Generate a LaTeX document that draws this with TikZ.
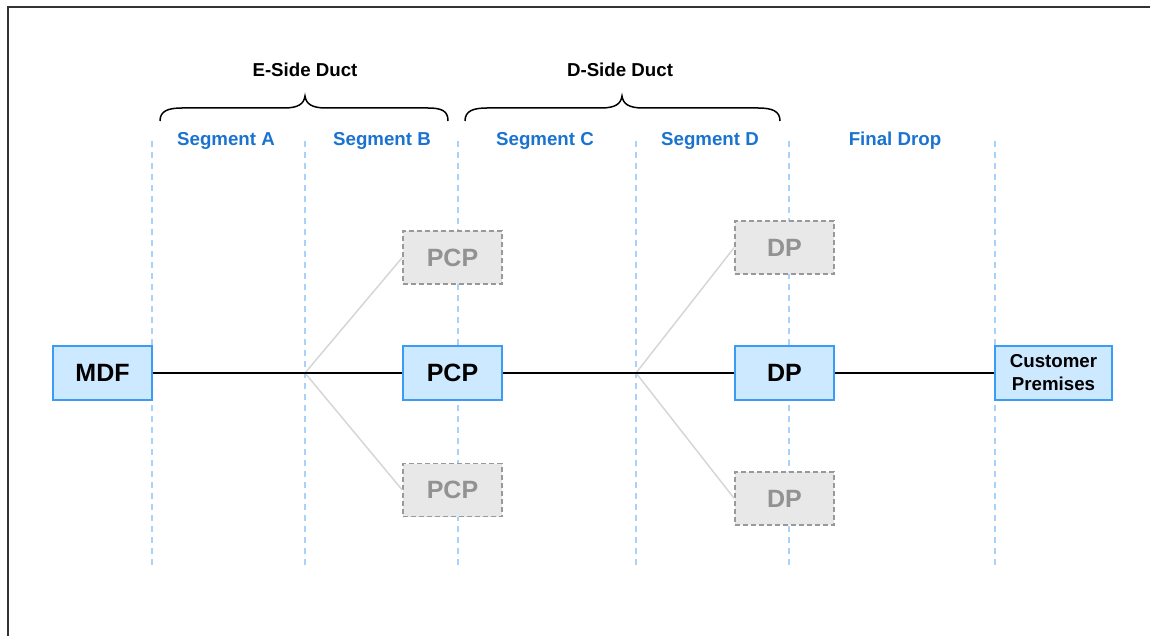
\documentclass[tikz,border=0pt]{standalone}
\usepackage{fontspec}
\setmainfont{Liberation Sans}
\definecolor{nodefill}{HTML}{CCE9FF}
\definecolor{nodeedge}{HTML}{3C9BF5}
\definecolor{ghostfill}{HTML}{E8E8E8}
\definecolor{ghostedge}{HTML}{999999}
\definecolor{ghosttext}{HTML}{929292}
\definecolor{branchline}{HTML}{D6D6D6}
\definecolor{guide}{HTML}{A8D2FA}
\definecolor{segblue}{HTML}{1A73D0}
\definecolor{framec}{HTML}{333333}
\begin{document}
\begin{tikzpicture}[x=1pt,y=-1pt,
  seglabel/.style={font=\bfseries\fontsize{18.7}{20}\selectfont, text=segblue},
  ductlabel/.style={font=\bfseries\fontsize{18.7}{20}\selectfont, text=black},
  guideline/.style={guide, line width=1.2pt, dash pattern=on 6pt off 5pt},
  mainbox/.style={draw=nodeedge, fill=nodefill, line width=2pt,
    minimum width=99pt, minimum height=54pt, inner sep=0pt,
    font=\bfseries\fontsize{25}{28}\selectfont, align=center},
  custbox/.style={mainbox, minimum width=117pt, font=\bfseries\fontsize{18.7}{22}\selectfont},
  ghostbox/.style={draw=ghostedge, fill=ghostfill, line width=1.5pt, dash pattern=on 5pt off 3pt,
    minimum width=99pt, minimum height=53pt, inner sep=0pt, text=ghosttext,
    font=\bfseries\fontsize{25}{28}\selectfont},
  trunk/.style={black, line width=2pt},
  branch/.style={branchline, line width=1.5pt},
  bracestyle/.style={black, line width=1.5pt}]
\useasboundingbox (0,0) rectangle (1150,636);
% outer frame
\draw[framec, line width=2pt] (8,7) rectangle (1175,660);

% segment boundaries
\foreach \x in {152,305,458,636,789,995}
  \draw[guideline] (\x,141) -- (\x,567);

% segment labels
\node[seglabel] (sa) at (226,141) {Segment A};
\node[seglabel] (sb) at (382,141) {Segment B};
\node[seglabel] (sc) at (545,141) {Segment C};
\node[seglabel] (sd) at (710,141) {Segment D};
\node[seglabel] (sf) at (895,141) {Final Drop};

% duct braces
\draw[bracestyle] (160,121) .. controls (160,111) and (168,108) .. (182,108)
  -- (284,108) .. controls (298,108) and (304,104) .. (305,96)
  .. controls (306,104) and (312,108) .. (326,108)
  -- (428,108) .. controls (442,108) and (448,111) .. (448,121);
\draw[bracestyle] (465,121) .. controls (465,111) and (473,108) .. (487,108)
  -- (601,108) .. controls (615,108) and (621,104) .. (622,96)
  .. controls (623,104) and (629,108) .. (643,108)
  -- (758,108) .. controls (772,108) and (780,111) .. (780,121);
\node[ductlabel] (eside) at (305,70) {E-Side Duct};
\node[ductlabel] (dside) at (620,70) {D-Side Duct};

% branch points
\coordinate (bp1) at (305,373);
\coordinate (bp2) at (636,373);

% alternative cabinets and drop points
\node[ghostbox] (pcpu) at (452.5,257.5) {PCP};
\node[ghostbox] (pcpd) at (452.5,490) {PCP};
\node[ghostbox] (dpu) at (784.5,247.5) {DP};
\node[ghostbox] (dpd) at (784.5,498.5) {DP};

\draw[branch] (bp1) -- (pcpu.west);
\draw[branch] (bp1) -- (pcpd.west);
\draw[branch] (bp2) -- (dpu.west);
\draw[branch] (bp2) -- (dpd.west);

% main route
\node[mainbox] (mdf) at (102.5,373) {MDF};
\node[mainbox] (pcp) at (452.5,373) {PCP};
\node[mainbox] (dp) at (784.5,373) {DP};
\node[custbox] (cust) at (1053.5,373) {Customer\\[1pt]Premises};

\draw[trunk] (mdf) -- (pcp);
\draw[trunk] (pcp) -- (dp);
\draw[trunk] (dp) -- (cust);
\end{tikzpicture}
\end{document}
